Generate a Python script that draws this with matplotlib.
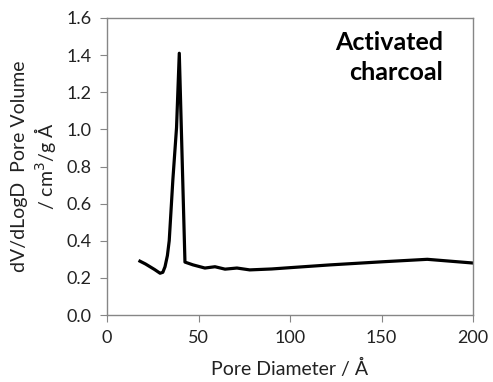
import numpy as np
import matplotlib.pyplot as plt

plt.rcParams['font.family'] = ['Lato', 'DejaVu Sans']

# pore diameter (Å) and dV/dlogD (cm3/g Å)
diameter = [18, 21, 23.5, 26, 29, 30.5, 31.7, 33, 34, 36, 38, 39.5,
            42.6, 47, 53.5, 59, 64.5, 71, 78, 90, 100, 122, 151, 175, 200]
dv_dlogd = [0.29, 0.275, 0.26, 0.245, 0.225, 0.23, 0.26, 0.32, 0.40, 0.73, 1.01, 1.41,
            0.285, 0.27, 0.253, 0.26, 0.247, 0.253, 0.243, 0.248, 0.255, 0.27, 0.287, 0.30, 0.28]

fig = plt.figure(figsize=(4.93, 3.82), dpi=100)
ax = fig.add_axes([107/493, 1-315/382, (473-107)/493, (315-18)/382])
ax.plot(diameter, dv_dlogd, color='black', lw=2.3, solid_joinstyle='round')

ax.set_xlim(0, 200)
ax.set_ylim(0, 1.6)
ax.set_xticks([0, 50, 100, 150, 200])
ax.set_yticks(np.arange(0, 1.61, 0.2))
ax.set_yticklabels(['%.1f' % v for v in np.arange(0, 1.61, 0.2)])
for s in ax.spines.values():
    s.set_color('#868686')
    s.set_linewidth(1)
ax.tick_params(direction='out', length=5, color='#868686', labelsize=13, labelcolor='#222222', pad=6)

ax.set_xlabel('Pore Diameter / Å', fontsize=14, color='#222222', labelpad=9)
ax.set_ylabel('dV/dLogD  Pore Volume\n/ cm$^3$/g Å', fontsize=14, color='#222222', labelpad=6)
ax.text(0.918, 0.955, 'Activated\ncharcoal', transform=ax.transAxes, ha='right', va='top',
        fontsize=18, fontweight='bold', linespacing=1.35)

fig.savefig('out.png', dpi=100)
